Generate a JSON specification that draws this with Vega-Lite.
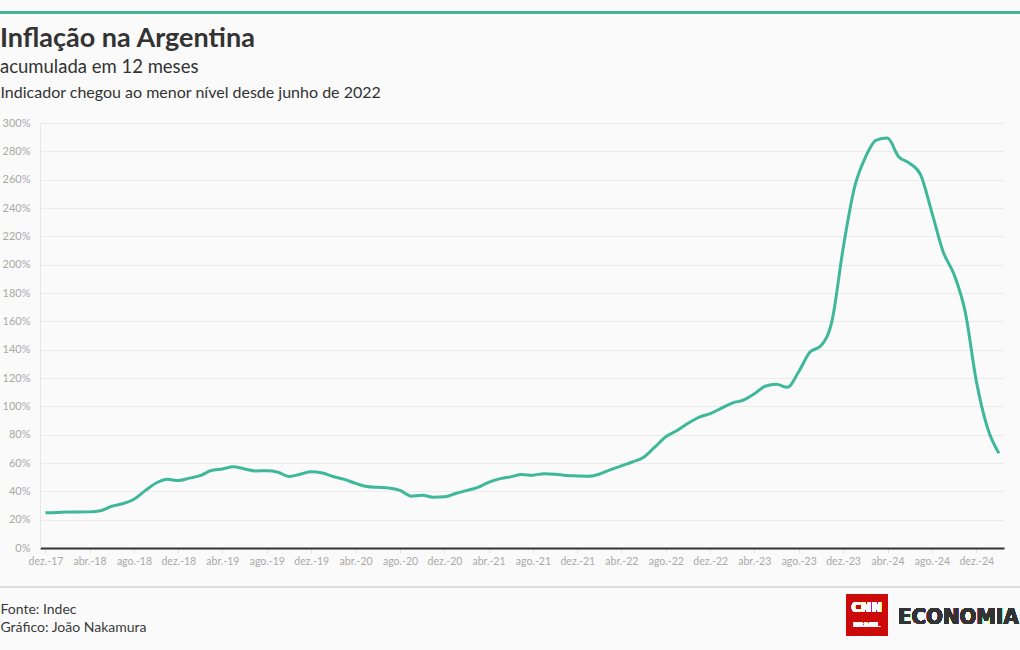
{
  "$schema": "https://vega.github.io/schema/vega-lite/v6.json",
  "width": 964,
  "height": 425,
  "autosize": {"type": "none"},
  "padding": {"left": 40, "top": 123, "right": 16, "bottom": 102},
  "background": "#fafafa",
  "title": {
    "text": "Inflação na Argentina",
    "subtitle": "acumulada em 12 meses",
    "anchor": "start",
    "frame": "group",
    "dx": -40,
    "font": "Lato",
    "fontSize": 27,
    "fontWeight": "bold",
    "color": "#333333",
    "subtitleFont": "Lato",
    "subtitleFontSize": 18.5,
    "subtitleColor": "#333333",
    "subtitlePadding": 5,
    "offset": -66
  },
  "config": {
    "view": {"stroke": null},
    "font": "Lato",
    "axis": {
      "labelFont": "Lato",
      "labelColor": "#a9a9a9",
      "titleFont": "Lato",
      "titleFontWeight": "normal",
      "titleColor": "#333333"
    }
  },
  "data": {
    "values": [
      {"date": "2017-12-01", "v": 24.8},
      {"date": "2018-01-01", "v": 25.0},
      {"date": "2018-02-01", "v": 25.4},
      {"date": "2018-03-01", "v": 25.4},
      {"date": "2018-04-01", "v": 25.5},
      {"date": "2018-05-01", "v": 26.3},
      {"date": "2018-06-01", "v": 29.5},
      {"date": "2018-07-01", "v": 31.2},
      {"date": "2018-08-01", "v": 34.4},
      {"date": "2018-09-01", "v": 40.5},
      {"date": "2018-10-01", "v": 45.9},
      {"date": "2018-11-01", "v": 48.5},
      {"date": "2018-12-01", "v": 47.6},
      {"date": "2019-01-01", "v": 49.3},
      {"date": "2019-02-01", "v": 51.3},
      {"date": "2019-03-01", "v": 54.7},
      {"date": "2019-04-01", "v": 55.8},
      {"date": "2019-05-01", "v": 57.3},
      {"date": "2019-06-01", "v": 55.8},
      {"date": "2019-07-01", "v": 54.4},
      {"date": "2019-08-01", "v": 54.5},
      {"date": "2019-09-01", "v": 53.5},
      {"date": "2019-10-01", "v": 50.5},
      {"date": "2019-11-01", "v": 52.1},
      {"date": "2019-12-01", "v": 53.8},
      {"date": "2020-01-01", "v": 52.9},
      {"date": "2020-02-01", "v": 50.3},
      {"date": "2020-03-01", "v": 48.4},
      {"date": "2020-04-01", "v": 45.6},
      {"date": "2020-05-01", "v": 43.4},
      {"date": "2020-06-01", "v": 42.8},
      {"date": "2020-07-01", "v": 42.4},
      {"date": "2020-08-01", "v": 40.7},
      {"date": "2020-09-01", "v": 36.6},
      {"date": "2020-10-01", "v": 37.2},
      {"date": "2020-11-01", "v": 35.8},
      {"date": "2020-12-01", "v": 36.1},
      {"date": "2021-01-01", "v": 38.5},
      {"date": "2021-02-01", "v": 40.7},
      {"date": "2021-03-01", "v": 42.6},
      {"date": "2021-04-01", "v": 46.3},
      {"date": "2021-05-01", "v": 48.8},
      {"date": "2021-06-01", "v": 50.2},
      {"date": "2021-07-01", "v": 51.8},
      {"date": "2021-08-01", "v": 51.4},
      {"date": "2021-09-01", "v": 52.5},
      {"date": "2021-10-01", "v": 52.1},
      {"date": "2021-11-01", "v": 51.2},
      {"date": "2021-12-01", "v": 50.9},
      {"date": "2022-01-01", "v": 50.7},
      {"date": "2022-02-01", "v": 52.3},
      {"date": "2022-03-01", "v": 55.1},
      {"date": "2022-04-01", "v": 58.0},
      {"date": "2022-05-01", "v": 60.7},
      {"date": "2022-06-01", "v": 64.0},
      {"date": "2022-07-01", "v": 71.0},
      {"date": "2022-08-01", "v": 78.5},
      {"date": "2022-09-01", "v": 83.0},
      {"date": "2022-10-01", "v": 88.0},
      {"date": "2022-11-01", "v": 92.4},
      {"date": "2022-12-01", "v": 94.8},
      {"date": "2023-01-01", "v": 98.8},
      {"date": "2023-02-01", "v": 102.5},
      {"date": "2023-03-01", "v": 104.3},
      {"date": "2023-04-01", "v": 108.8},
      {"date": "2023-05-01", "v": 114.2},
      {"date": "2023-06-01", "v": 115.6},
      {"date": "2023-07-01", "v": 113.4},
      {"date": "2023-08-01", "v": 124.4},
      {"date": "2023-09-01", "v": 138.3},
      {"date": "2023-10-01", "v": 142.7},
      {"date": "2023-11-01", "v": 160.9},
      {"date": "2023-12-01", "v": 211.4},
      {"date": "2024-01-01", "v": 254.2},
      {"date": "2024-02-01", "v": 276.2},
      {"date": "2024-03-01", "v": 287.9},
      {"date": "2024-04-01", "v": 289.4},
      {"date": "2024-05-01", "v": 276.4},
      {"date": "2024-06-01", "v": 271.5},
      {"date": "2024-07-01", "v": 263.4},
      {"date": "2024-08-01", "v": 236.7},
      {"date": "2024-09-01", "v": 209.0},
      {"date": "2024-10-01", "v": 193.0},
      {"date": "2024-11-01", "v": 166.0},
      {"date": "2024-12-01", "v": 117.8},
      {"date": "2025-01-01", "v": 84.5},
      {"date": "2025-02-01", "v": 66.9}
    ],
    "format": {"parse": {"date": "date:'%Y-%m-%d'"}}
  },
  "layer": [
    {
      "mark": {"type": "line", "color": "#3fb89a", "strokeWidth": 3, "interpolate": "monotone", "clip": false},
      "encoding": {
        "x": {
          "field": "date",
          "type": "temporal",
          "scale": {"domain": [{"year": 2017, "month": 11, "date": 16}, {"year": 2025, "month": 2, "date": 15}]},
          "axis": {
            "values": [
              {"year": 2017, "month": 12, "date": 1},
              {"year": 2018, "month": 4, "date": 1},
              {"year": 2018, "month": 8, "date": 1},
              {"year": 2018, "month": 12, "date": 1},
              {"year": 2019, "month": 4, "date": 1},
              {"year": 2019, "month": 8, "date": 1},
              {"year": 2019, "month": 12, "date": 1},
              {"year": 2020, "month": 4, "date": 1},
              {"year": 2020, "month": 8, "date": 1},
              {"year": 2020, "month": 12, "date": 1},
              {"year": 2021, "month": 4, "date": 1},
              {"year": 2021, "month": 8, "date": 1},
              {"year": 2021, "month": 12, "date": 1},
              {"year": 2022, "month": 4, "date": 1},
              {"year": 2022, "month": 8, "date": 1},
              {"year": 2022, "month": 12, "date": 1},
              {"year": 2023, "month": 4, "date": 1},
              {"year": 2023, "month": 8, "date": 1},
              {"year": 2023, "month": 12, "date": 1},
              {"year": 2024, "month": 4, "date": 1},
              {"year": 2024, "month": 8, "date": 1},
              {"year": 2024, "month": 12, "date": 1}
            ],
            "tickCount": 40,
            "labelExpr": "['jan','fev','mar','abr','mai','jun','jul','ago','set','out','nov','dez'][month(datum.value)] + '.-' + timeFormat(datum.value, '%y')",
            "labelFontSize": 10.5,
            "labelPadding": 3,
            "labelFlush": false,
            "labelOverlap": false,
            "grid": false,
            "domainColor": "#333333",
            "domainWidth": 2,
            "tickColor": "#e4e4e4",
            "tickSize": 5,
            "title": ["Fonte: Indec", "Gráfico: João Nakamura"],
            "titleX": -40,
            "titleY": 65,
            "titleAlign": "left",
            "titleAnchor": "start",
            "titleBaseline": "alphabetic",
            "titleFontSize": 14,
            "titleLineHeight": 18,
            "titleColor": "#3a3a3a"
          }
        },
        "y": {
          "field": "v",
          "type": "quantitative",
          "scale": {"domain": [0, 300], "nice": false},
          "axis": {
            "values": [0, 20, 40, 60, 80, 100, 120, 140, 160, 180, 200, 220, 240, 260, 280, 300],
            "tickCount": 30,
            "labelExpr": "datum.value + '%'",
            "labelFontSize": 11,
            "labelPadding": 10,
            "labelOverlap": false,
            "labelFlush": false,
            "ticks": false,
            "domain": true,
            "domainColor": "#e6e6e6",
            "gridColor": "#ebebeb",
            "title": "Indicador chegou ao menor nível desde junho de 2022",
            "titleAngle": 0,
            "titleAlign": "left",
            "titleAnchor": "start",
            "titleBaseline": "middle",
            "titleX": -40,
            "titleY": -31,
            "titleFontSize": 16,
            "titleColor": "#333333"
          }
        }
      }
    },
    {
      "mark": {"type": "rule", "color": "#45b497", "strokeWidth": 3, "clip": false},
      "encoding": {
        "x": {"datum": {"year": 2017, "month": 5, "date": 1}, "type": "temporal"},
        "x2": {"datum": {"year": 2025, "month": 8, "date": 1}},
        "y": {"datum": 378, "type": "quantitative"}
      }
    },
    {
      "mark": {"type": "rule", "color": "#dddddd", "strokeWidth": 1, "clip": false},
      "encoding": {
        "x": {"datum": {"year": 2017, "month": 5, "date": 1}, "type": "temporal"},
        "x2": {"datum": {"year": 2025, "month": 8, "date": 1}},
        "y": {"datum": -27.5, "type": "quantitative"}
      }
    },
    {
      "mark": {"type": "rect", "color": "#cc0a0a", "clip": false},
      "encoding": {
        "x": {"datum": {"year": 2023, "month": 12, "date": 9}, "type": "temporal"},
        "x2": {"datum": {"year": 2024, "month": 4, "date": 2}},
        "y": {"datum": -32.5, "type": "quantitative"},
        "y2": {"datum": -62.1}
      }
    },
    {
      "mark": {"type": "text", "text": "CNN", "color": "#ffffff", "font": "DejaVu Sans Condensed", "fontWeight": "bold", "fontSize": 14, "align": "center", "baseline": "middle", "clip": false},
      "encoding": {
        "x": {"datum": {"year": 2024, "month": 2, "date": 4}, "type": "temporal"},
        "y": {"datum": -42, "type": "quantitative"}
      }
    },
    {
      "mark": {"type": "text", "text": "BRASIL", "color": "#ffffff", "font": "DejaVu Sans", "fontWeight": "bold", "fontSize": 6.5, "align": "center", "baseline": "middle", "clip": false},
      "encoding": {
        "x": {"datum": {"year": 2024, "month": 2, "date": 4}, "type": "temporal"},
        "y": {"datum": -54.4, "type": "quantitative"}
      }
    },
    {
      "mark": {"type": "text", "text": "ECONOMIA", "color": "#333333", "font": "DejaVu Sans Condensed", "fontWeight": "bold", "fontSize": 22, "align": "left", "baseline": "middle", "clip": false},
      "encoding": {
        "x": {"datum": {"year": 2024, "month": 4, "date": 30}, "type": "temporal"},
        "y": {"datum": -48.7, "type": "quantitative"}
      }
    }
  ]
}
